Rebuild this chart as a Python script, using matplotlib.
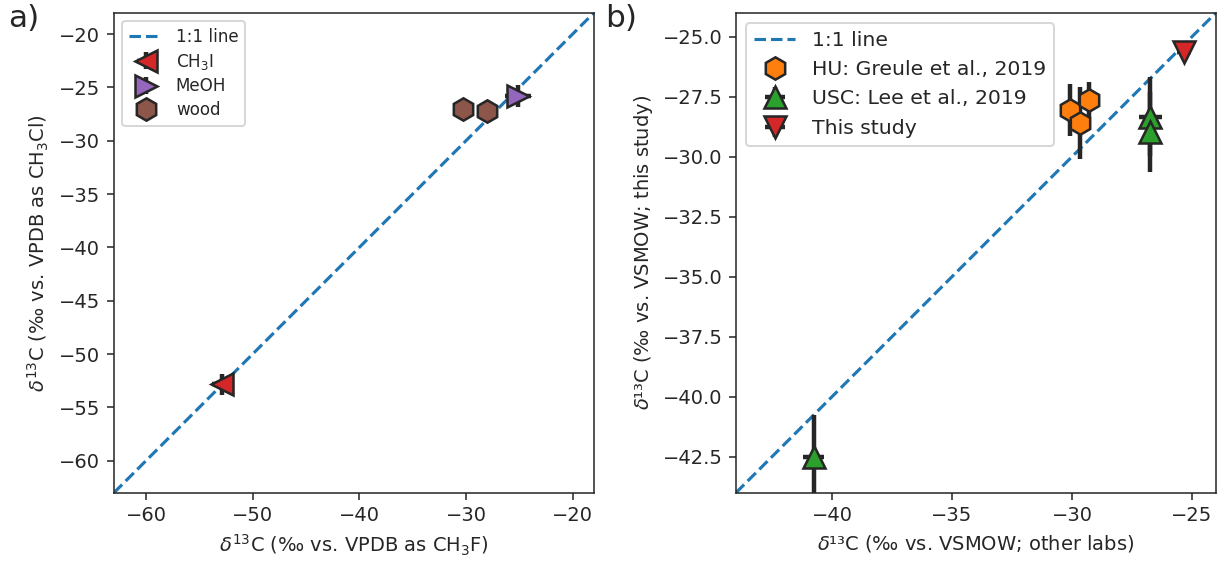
import matplotlib
matplotlib.use("Agg")
import matplotlib.pyplot as plt

# ---------------- data ----------------
# panel a
ch3i_x, ch3i_y, ch3i_xerr, ch3i_yerr = [-52.85], [-52.85], [1.0], [1.0]
meoh_x, meoh_y, meoh_xerr, meoh_yerr = [-25.1], [-25.8], [1.2], [1.0]
wood_x = [-30.25, -28.0]
wood_y = [-27.05, -27.2]
wood_xerr = [1.0, 1.0]
wood_yerr = [0.5, 0.5]
a_lim = [-63, -18]
a_xticks = [-60, -50, -40, -30, -20]
a_yticks = [-60, -55, -50, -45, -40, -35, -30, -25, -20]

# panel b
hu_x = [-30.07, -29.29, -29.66]
hu_y = [-28.05, -27.64, -28.61]
hu_yerr = [1.1, 0.75, 1.5]
usc_x = [-26.73, -26.73, -40.77]
usc_y = [-28.33, -28.96, -42.5]
usc_xerr = [0.48, 0.1, 0.43]
usc_yerr = [1.65, 1.67, 1.75]
ts_x, ts_y, ts_xerr, ts_yerr = [-25.33], [-25.63], [0.3], [0.3]
b_lim = [-44, -24]
b_xticks = [-40, -35, -30, -25]
b_yticks = [-42.5, -40.0, -37.5, -35.0, -32.5, -30.0, -27.5, -25.0]

# ---------------- figure ----------------
dark = '#262626'
plt.rcParams.update({
    'text.color': dark, 'axes.labelcolor': dark, 'axes.edgecolor': dark,
    'xtick.color': dark, 'ytick.color': dark,
})
DPI = 140
fig = plt.figure(figsize=(1222 / DPI, 561 / DPI), dpi=DPI)
W, H = 1222, 561
axa = fig.add_axes([114 / W, (H - 492.7) / H, 480 / W, 480 / H])
axb = fig.add_axes([736 / W, (H - 492.7) / H, 480 / W, 480 / H])

ms = 11.5
mew = 1.3
elw = 2.3

# panel a
axa.plot(a_lim, a_lim, '--', color='#1f77b4', lw=1.6, label='1:1 line')
axa.errorbar(ch3i_x, ch3i_y, xerr=ch3i_xerr, yerr=ch3i_yerr, fmt='<', ms=ms,
             mfc='#d62728', mec=dark, mew=mew, ecolor=dark, elinewidth=elw,
             ls='none', label='CH$_3$I')
axa.errorbar(meoh_x, meoh_y, xerr=meoh_xerr, yerr=meoh_yerr, fmt='>', ms=ms,
             mfc='#9467bd', mec=dark, mew=mew, ecolor=dark, elinewidth=elw,
             ls='none', label='MeOH')
axa.errorbar(wood_x, wood_y, xerr=wood_xerr, yerr=wood_yerr, fmt='h', ms=ms,
             mfc='#8c564b', mec=dark, mew=mew, ecolor=dark, elinewidth=elw,
             ls='none', label='wood')
axa.set_xlim(a_lim)
axa.set_ylim(a_lim)
axa.set_xticks(a_xticks)
axa.set_yticks(a_yticks)
axa.set_xlabel(r'$\delta^{13}$C (‰ vs. VPDB as CH$_3$F)')
axa.set_ylabel(r'$\delta^{13}$C (‰ vs. VPDB as CH$_3$Cl)')
axa.legend(loc='upper left', fontsize=8.6, labelspacing=0.35)

# panel b
axb.plot(b_lim, b_lim, '--', color='#1f77b4', lw=1.6, label='1:1 line')
axb.errorbar(hu_x, hu_y, yerr=hu_yerr, fmt='h', ms=ms,
             mfc='#ff7f0e', mec=dark, mew=mew, ecolor=dark, elinewidth=elw,
             ls='none', label='HU: Greule et al., 2019')
axb.errorbar(usc_x, usc_y, xerr=usc_xerr, yerr=usc_yerr, fmt='^', ms=ms,
             mfc='#2ca02c', mec=dark, mew=mew, ecolor=dark, elinewidth=elw,
             ls='none', label='USC: Lee et al., 2019')
axb.errorbar(ts_x, ts_y, xerr=ts_xerr, yerr=ts_yerr, fmt='v', ms=ms,
             mfc='#d62728', mec=dark, mew=mew, ecolor=dark, elinewidth=elw,
             ls='none', label='This study')
axb.set_xlim(b_lim)
axb.set_ylim(b_lim)
axb.set_xticks(b_xticks)
axb.set_yticks(b_yticks)
axb.set_xlabel('$\\delta$¹³C (‰ vs. VSMOW; other labs)')
axb.set_ylabel('$\\delta$¹³C (‰ vs. VSMOW; this study)')
axb.legend(loc='upper left', fontsize=10.5)

fig.text(8 / W, 1 - 4 / H, 'a)', fontsize=16, va='top', ha='left')
fig.text(605 / W, 1 - 4 / H, 'b)', fontsize=16, va='top', ha='left')

fig.savefig('out.png', dpi=DPI)
